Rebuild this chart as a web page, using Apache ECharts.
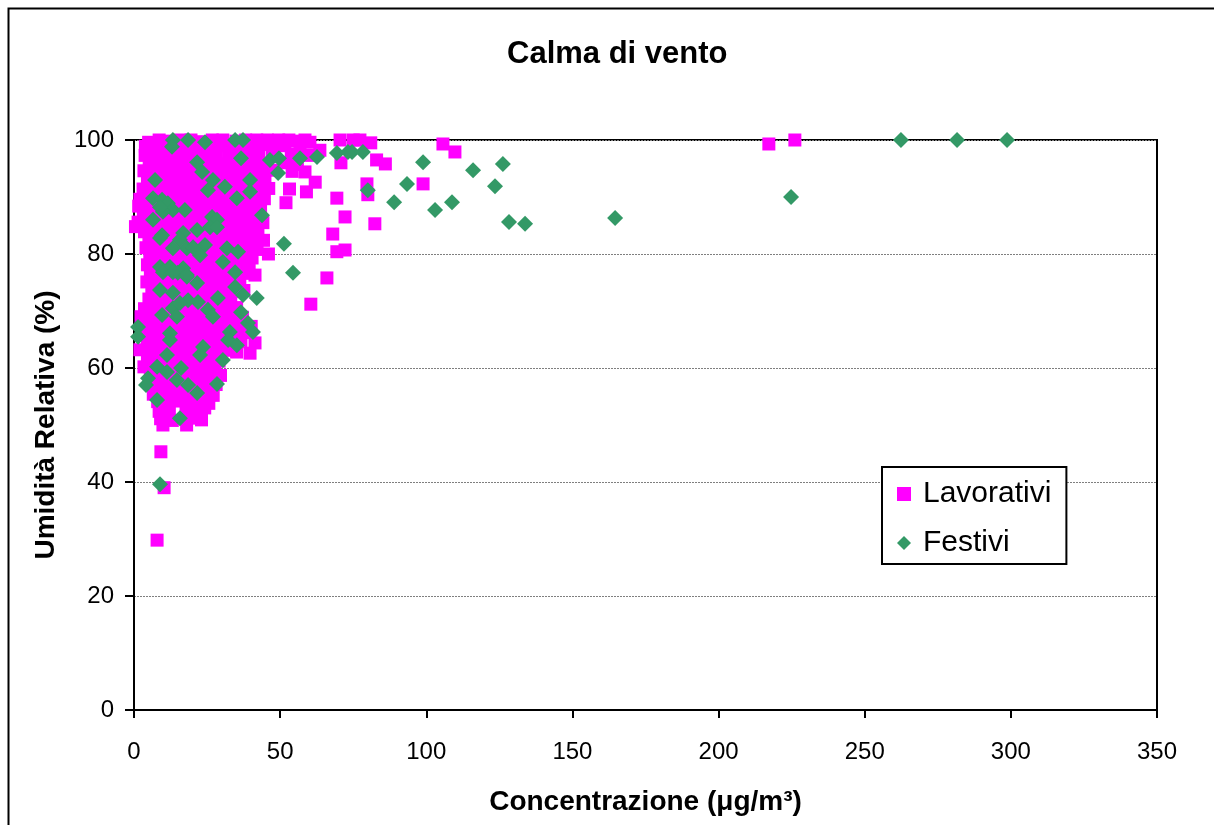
<!DOCTYPE html>
<html>
<head>
<meta charset="utf-8">
<title>Calma di vento</title>
<script src="https://cdn.jsdelivr.net/npm/echarts@6/dist/echarts.min.js"></script>
<style>
  html, body { margin: 0; padding: 0; background: #fff; }
  #chart { width: 1214px; height: 825px; }
</style>
</head>
<body>
<div id="chart"></div>
<script>
// Concentrazione (µg/m³) vs Umidità Relativa (%) in calma di vento

const titleText = 'Calma di vento';
const xAxisName = 'Concentrazione (μg/m³)';
const yAxisName = 'Umidità Relativa (%)';
const seriesNames = ['Lavorativi', 'Festivi'];

const xTicks = { min: 0, max: 350, step: 50 };
const yTicks = { min: 0, max: 100, step: 20 };

// Giorni lavorativi: [concentrazione, umidità]
const lavorativi = [
  [5,99.6],[8.6,100],[12.2,99.8],[15.8,100],[19.5,100],[23.1,99.7],[26.8,100],[30.4,100],[34.9,99.8],[38.2,100],[42,100],[45.6,100],[49.5,100],[53,100],[55.4,99.8],[58.5,100],[60.2,99.6],
  [3.9,98.9],[7.4,99.1],[10.8,98.7],[14.6,99],[18.3,98.8],[21.7,99.2],[25.6,98.9],[29.3,99],[33.1,98.6],[36.8,99.1],[40.3,98.8],[44.1,99.2],[47.7,98.7],[51.6,99],[56.8,98.9],
  [3.8,97.3],[6.8,97.6],[10.2,97.4],[13.9,97.8],[17.2,97.2],[21.3,97.5],[24.8,97.7],[28.2,97.3],[32.4,97.6],[35.9,97.2],[39.1,97.7],[42.7,97.4],[47.3,97.1],[53.8,97.5],[59.4,97.3],
  [5.2,96.1],[8.7,95.8],[12.3,96.2],[15.4,95.9],[19.2,96.3],[22.8,95.7],[26.7,96.1],[30.1,95.8],[33.7,96.2],[37.9,95.9],[41.3,96.3],[45.2,95.8],[51.7,96],[55.9,95.7],
  [3.4,94.6],[6.6,94.2],[9.8,94.7],[13.7,94.4],[17.3,94.8],[20.8,94.3],[24.6,94.6],[28.3,94.2],[31.8,94.7],[35.7,94.4],[39.8,94.6],[43.9,94.3],[47.4,94.7],[54.1,94.5],[58.5,94.4],
  [4.6,93.1],[8.2,92.8],[11.7,93.2],[15.1,92.9],[18.8,93.3],[22.4,92.7],[26.2,93],[29.7,93.3],[33.4,92.8],[37.2,93.1],[41.1,92.9],[44.8,93.2],[62,92.6],
  [3.1,91.4],[6.4,91.7],[10.1,91.3],[13.6,91.8],[16.9,91.5],[20.7,91.2],[24.1,91.6],[27.8,91.4],[31.6,91.7],[35.2,91.3],[38.6,91.6],[42.2,91.2],[46.1,91.5],[53.2,91.4],
  [2,89.6],[5.6,90.2],[9.2,89.8],[12.6,90.1],[16.2,89.7],[19.4,90.3],[23.2,89.9],[26.9,90.1],[30.6,89.7],[34.1,90.2],[37.6,89.8],[41.2,90.1],[44.6,89.7],[59,90.9],
  [1.6,88.4],[4.4,88.7],[8.1,88.3],[11.4,88.8],[15.2,88.4],[18.6,88.7],[22.1,88.2],[25.7,88.6],[29.2,88.3],[32.8,88.8],[36.4,88.4],[40.1,88.7],[43.3,88.2],[52,89],
  [3.2,87.1],[6.7,86.8],[10.2,87.2],[13.4,86.9],[17.1,87.3],[20.6,86.8],[24.2,87.1],[27.9,86.7],[31.4,87.2],[35.1,86.9],[38.7,87.2],[42.1,86.8],
  [1.4,85.6],[0.5,84.8],[4.9,85.3],[8.4,85.7],[12.1,85.4],[15.6,85.8],[19.1,85.3],[22.6,85.6],[26.1,85.2],[29.6,85.7],[33.2,85.4],[36.8,85.6],[40.6,85.2],[44.1,85.5],
  [3.6,83.9],[7.1,84.2],[10.6,83.8],[14.2,84.1],[17.6,83.7],[21.2,84.2],[24.9,83.9],[28.6,84.1],[32.1,83.8],[35.6,84.2],[39.2,83.9],[42.4,84.1],
  [5.1,82.6],[8.6,82.3],[12.2,82.7],[15.4,82.4],[19.2,82.6],[22.9,82.2],[26.4,82.7],[30.2,82.4],[33.6,82.6],[37.1,82.3],[40.6,82.7],[44.3,82.4],
  [4.1,81.1],[7.2,80.8],[10.4,81.2],[14.1,80.9],[17.4,81.3],[21.1,80.8],[24.6,81.1],[28.2,80.7],[31.6,81.2],[35.2,80.9],[38.4,81.2],[42.1,80.8],
  [5.4,79.4],[9.1,79.7],[12.4,79.3],[16.1,79.8],[19.6,79.4],[23.1,79.6],[26.6,79.2],[30.1,79.7],[33.4,79.4],[37.2,79.6],[40.4,79.3],[46,80],
  [4.6,78.1],[8.1,77.8],[11.6,78.2],[15.1,77.9],[18.4,78.3],[22.1,77.8],[25.6,78.1],[29.2,77.7],[32.6,78.2],[36.1,77.9],[39.4,78.2],
  [5.6,76.4],[9.1,76.7],[12.6,76.3],[16.2,76.8],[19.4,76.4],[23.2,76.6],[26.9,76.2],[30.6,76.7],[34.1,76.4],[37.8,76.6],[41.4,76.3],
  [4.4,75.1],[8.2,74.8],[11.6,75.2],[15.2,74.9],[18.6,75.3],[22.1,74.8],[25.7,75.1],[29.1,74.7],[32.4,75.2],[36.2,74.9],
  [6.1,73.4],[9.6,73.7],[13.1,73.3],[16.4,73.8],[20.1,73.4],[23.6,73.6],[27.2,73.2],[30.4,73.7],[33.9,73.4],[37.6,73.6],
  [5.1,72.1],[8.6,71.8],[12.1,72.2],[15.6,71.9],[19.1,72.3],[22.4,71.8],[26.1,72.1],[29.6,71.7],[33.1,72.2],
  [3.6,70.4],[7.1,70.7],[10.6,70.3],[14.1,70.8],[17.6,70.4],[21.1,70.6],[24.6,70.2],[28.1,70.7],[31.6,70.4],[35.1,70.6],
  [2.4,69],[5.6,69.2],[9.1,68.8],[12.6,69.1],[16.1,68.7],[19.6,69.2],[23.1,68.9],[26.6,69.1],[30.1,68.8],[33.6,69.2],[37.1,68.9],
  [4.1,67.4],[7.6,67.7],[11.1,67.3],[14.6,67.8],[18.1,67.4],[21.6,67.6],[25.1,67.2],[28.6,67.7],[32.1,67.4],[35.6,67.6],[40.1,67.3],
  [3.1,66.1],[6.1,65.8],[9.6,66.2],[13.1,65.9],[16.6,66.3],[20.1,65.8],[23.6,66.1],[27.1,65.7],[30.6,66.2],[34.1,65.9],[38.1,66.2],
  [4.6,64.4],[8.1,64.7],[11.6,64.3],[15.1,64.8],[18.6,64.4],[22.1,64.6],[25.6,64.2],[29.1,64.7],[33.1,64.4],[36.6,64.6],[41.4,64.4],
  [2,63.2],[6.1,62.9],[9.6,63.3],[13.1,62.8],[16.6,63.1],[20.1,62.7],[23.6,63.2],[27.1,62.9],[31.1,63.1],[35.1,62.8],[39.7,62.6],
  [4.6,61.6],[8.1,61.3],[11.6,61.7],[15.1,61.4],[18.6,61.8],[22.1,61.3],[25.6,61.6],[29.1,61.2],
  [3.4,60.2],[6.6,59.9],[10.1,60.3],[13.6,59.8],[17.1,60.1],[20.6,59.7],[24.1,60.2],[27.6,59.9],
  [5.6,58.4],[9.1,58.7],[12.6,58.3],[16.1,58.8],[19.6,58.4],[23.1,58.6],[26.6,58.2],[29.6,58.7],
  [7.1,57.1],[10.6,56.8],[14.1,57.2],[17.6,56.9],[21.1,57.3],[24.6,56.8],[28.1,57.1],
  [6.6,55.4],[9.6,55.7],[13.1,55.3],[16.6,55.8],[20.1,55.4],[23.6,55.6],[27.1,55.2],
  [8.1,54.1],[11.6,53.8],[15.1,54.2],[18.6,53.9],[22.1,54.2],[25.6,53.8],
  [8.6,52.4],[12.1,52.7],[17.8,52.3],[21.1,52.6],[24.2,53],
  [9.1,51.1],[13.1,50.8],[19.1,51.2],[23.1,50.9],
  [9.9,50],[18,50],
  [9.2,45.3],[10.3,39],[7.9,29.8],
  [63.6,98.2],[70.5,100],[75,100],[77.3,100],[81,99.5],[83,96.5],[86,95.8],[70.8,96],
  [79.7,92.3],[80,90.4],[98.9,92.3],[105.7,99.3],[109.8,97.9],[69.4,89.8],[72.2,86.5],
  [82.4,85.3],[68,83.5],[69.4,80.4],[72.2,80.7],[66,75.8],[60.5,71.2],
  [217.2,99.3],[226.1,100]
];

// Giorni festivi: [concentrazione, umidità]
const festivi = [
  [13.3,100],[18.5,100],[24.3,99.6],[34.6,100],[37.3,100],[13,98.8],[21.6,96.1],[36.6,96.8],
  [46.5,96.5],[49.6,96.8],[56.8,96.8],[62.6,97],[23.3,94.4],[49.3,94.2],[7.2,93],[27,93],
  [31.1,91.8],[39.7,93],[25.3,91.2],[39.7,90.9],[35.2,89.8],[6.5,89.8],[9.6,89.5],[11.6,88.9],
  [13.3,87.7],[9.9,87.4],[17.4,87.7],[8.9,88.2],[6.5,86],[26.7,86.5],[28.4,86],[26,84.7],
  [28.4,84.7],[43.8,86.8],[21.6,84.2],[9.6,83.3],[8.9,82.8],[16.8,83.7],[15.7,82.5],[18.1,81],
  [20.2,81.2],[13.3,81],[24.3,81.6],[22.6,79.8],[31.8,81],[35.6,80.4],[34.6,76.8],[30.4,78.6],
  [8.9,77.7],[12.3,77.7],[16.8,77.5],[15,76.7],[18.1,76.3],
  [9.9,76.8],[13.3,76.8],[18.1,76],[21.6,74.9],[8.9,73.7],[13.3,73.2],[18.5,71.9],[21.9,71.6],
  [34.6,74.2],[37.3,72.8],[42,72.3],[28.7,72.3],[25.3,70.2],[27,69],[36.6,69.8],[39,67.9],
  [40.7,66.3],[32.8,66.3],[32.2,64.9],[35.2,64],[23.6,63.7],[22.6,62.3],[30.4,61.4],[28.4,57.2],
  [21.6,55.6],[18.5,57],[15.7,51.2],[7.9,54.4],[4.8,58.2],[4.1,57],[11.3,59.3],[16.1,60],
  [14.7,57.9],[11.3,62.3],[7.9,60.2],[1.4,67.2],[1.4,65.5],[9.6,69.3],[13.3,70.5],[12.3,66.1],
  [12.3,64.9],[14.7,69],[15.7,71.4],
  [51.3,81.8],[54.4,76.7],[69.4,97.7],[73.2,97.9],[74.6,97.9],[78.3,97.9],[98.9,96.1],[80,91.2],
  [93.4,92.3],[89,89.1],[103,87.7],[108.8,89.1],[116,94.7],[126.2,95.8],[123.5,91.9],[128.3,85.6],
  [133.8,85.3],[164.6,86.3],[224.8,90],[262.4,100],[281.6,100],[298.7,100],[8.9,39.6]
];

const FONT = '"Liberation Sans", Arial, sans-serif';
const chart = echarts.init(document.getElementById('chart'), null, { renderer: 'canvas' });

chart.setOption({
  animation: false,
  backgroundColor: '#ffffff',
  textStyle: { fontFamily: FONT, color: '#000' },
  title: {
    text: titleText,
    left: 502,
    top: 34,
    textStyle: { fontFamily: FONT, fontSize: 31, fontWeight: 'bold', color: '#000' }
  },
  graphic: [{
    type: 'rect',
    left: 6, top: 6,
    shape: { width: 1400, height: 1000 },
    style: { fill: 'none', stroke: '#000', lineWidth: 2 },
    silent: true, z: -1
  }],
  grid: {
    left: 134, top: 140, right: 57, bottom: 115,
    show: true, borderColor: '#000', borderWidth: 2, backgroundColor: 'transparent'
  },
  legend: {
    orient: 'vertical',
    left: 882, top: 467,
    padding: [12, 15, 6, 15],
    itemGap: 19,
    itemWidth: 14, itemHeight: 14,
    backgroundColor: '#fff',
    borderColor: '#000', borderWidth: 2,
    textStyle: { fontFamily: FONT, fontSize: 30, color: '#000', padding: [0, 0, 0, 7] },
    data: [
      { name: seriesNames[0], icon: 'rect', itemStyle: { opacity: 1 } },
      { name: seriesNames[1], icon: 'diamond', itemStyle: { opacity: 1 } }
    ]
  },
  xAxis: {
    type: 'value',
    min: xTicks.min, max: xTicks.max, interval: xTicks.step,
    name: xAxisName,
    nameLocation: 'middle',
    nameGap: 78,
    nameTextStyle: { fontFamily: FONT, fontSize: 28, fontWeight: 'bold', color: '#000' },
    axisLine: { show: true, lineStyle: { color: '#000', width: 2 } },
    axisTick: { show: true, inside: false, length: 8, lineStyle: { color: '#000', width: 2 } },
    axisLabel: { fontFamily: FONT, fontSize: 24, color: '#000', margin: 30 },
    splitLine: { show: false }
  },
  yAxis: {
    type: 'value',
    min: yTicks.min, max: yTicks.max, interval: yTicks.step,
    name: yAxisName,
    nameLocation: 'middle',
    nameGap: 74,
    nameTextStyle: { fontFamily: FONT, fontSize: 28, fontWeight: 'bold', color: '#000' },
    axisLine: { show: true, lineStyle: { color: '#000', width: 2 } },
    axisTick: { show: true, inside: false, length: 9, lineStyle: { color: '#000', width: 2 } },
    axisLabel: { fontFamily: FONT, fontSize: 24, color: '#000', margin: 20 },
    splitLine: { show: true, lineStyle: { color: '#7f7f7f', width: 1, type: [2, 1] } }
  },
  series: [
    {
      name: seriesNames[0],
      type: 'scatter',
      symbol: 'rect',
      symbolSize: 13,
      itemStyle: { color: '#ff00ff', opacity: 1 },
      data: lavorativi,
      z: 2
    },
    {
      name: seriesNames[1],
      type: 'scatter',
      symbol: 'diamond',
      symbolSize: 16,
      itemStyle: { color: '#339966', opacity: 1 },
      data: festivi,
      z: 3
    }
  ]
});
</script>
</body>
</html>
